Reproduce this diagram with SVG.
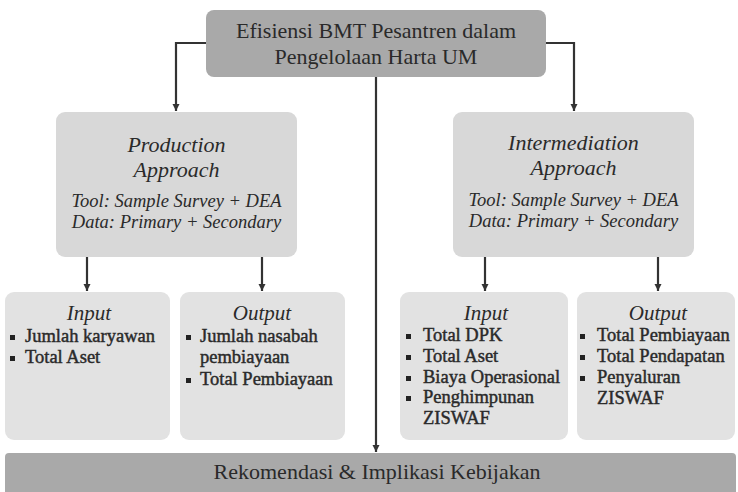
<svg xmlns="http://www.w3.org/2000/svg" width="738" height="492" viewBox="0 0 738 492">
<style>
  .t { font-family: "Liberation Serif", "Times New Roman", serif; fill: #2a2a2a; }
  .title { font-size: 22px; text-anchor: middle; }
  .ital { font-style: italic; }
  .sub { font-size: 18.5px; font-style: italic; text-anchor: middle; }
  .hd { font-size: 21px; font-style: italic; text-anchor: middle; }
  .item { font-size: 18.5px; stroke: #2a2a2a; stroke-width: 0.45; }
  .dark { fill: #a9a9a9; }
  .mid { fill: #d8d8d8; }
  .light { fill: #e2e2e2; }
  .bul { fill: #222; }
  .conn { stroke: #333; stroke-width: 2.2; fill: none; marker-end: url(#arr); }
</style>
<defs>
  <marker id="arr" viewBox="0 0 10 10" refX="10" refY="5" markerWidth="7" markerHeight="8" markerUnits="userSpaceOnUse" orient="auto">
    <path d="M0,0 L10,5 L0,10 Z" fill="#333"/>
  </marker>
</defs>
<rect width="738" height="492" fill="#ffffff"/>

<g id="connectors">
  <polyline class="conn" points="206,43 176,43 176,111"/>
  <polyline class="conn" points="546,43 574,43 574,111"/>
  <line class="conn" x1="376" y1="77" x2="376" y2="452"/>
  <line class="conn" x1="87" y1="257" x2="87" y2="291"/>
  <line class="conn" x1="262" y1="257" x2="262" y2="291"/>
  <line class="conn" x1="485" y1="257" x2="485" y2="291"/>
  <line class="conn" x1="658" y1="257" x2="658" y2="291"/>
</g>

<g id="top">
  <rect class="dark" x="206" y="10" width="340" height="67" rx="8"/>
  <text class="t title" x="376" y="38">Efisiensi BMT Pesantren dalam</text>
  <text class="t title" x="376" y="64">Pengelolaan Harta UM</text>
</g>

<g id="production">
  <rect class="mid" x="56" y="112" width="241" height="145" rx="9"/>
  <text class="t title ital" x="176.5" y="152">Production</text>
  <text class="t title ital" x="176.5" y="177">Approach</text>
  <text class="t sub" x="176.5" y="207">Tool: Sample Survey + DEA</text>
  <text class="t sub" x="176.5" y="228">Data: Primary + Secondary</text>
</g>

<g id="intermediation">
  <rect class="mid" x="453" y="112" width="241" height="145" rx="9"/>
  <text class="t title ital" x="573.5" y="150">Intermediation</text>
  <text class="t title ital" x="573.5" y="175">Approach</text>
  <text class="t sub" x="573.5" y="206">Tool: Sample Survey + DEA</text>
  <text class="t sub" x="573.5" y="227">Data: Primary + Secondary</text>
</g>

<g id="prod-input">
  <rect class="light" x="5" y="292" width="165" height="148" rx="9"/>
  <text class="t hd" x="89" y="320">Input</text>
  <rect class="bul" x="10" y="335" width="5" height="5"/>
  <text class="t item" x="25" y="342">Jumlah karyawan</text>
  <rect class="bul" x="10" y="356" width="5" height="5"/>
  <text class="t item" x="25" y="363">Total Aset</text>
</g>

<g id="prod-output">
  <rect class="light" x="180" y="292" width="165" height="148" rx="9"/>
  <text class="t hd" x="262" y="320">Output</text>
  <rect class="bul" x="186" y="335" width="5" height="5"/>
  <text class="t item" x="200" y="342">Jumlah nasabah</text>
  <text class="t item" x="200" y="363">pembiayaan</text>
  <rect class="bul" x="186" y="378" width="5" height="5"/>
  <text class="t item" x="200" y="385">Total Pembiayaan</text>
</g>

<g id="inter-input">
  <rect class="light" x="400" y="292" width="168" height="148" rx="9"/>
  <text class="t hd" x="486" y="320">Input</text>
  <rect class="bul" x="406" y="334" width="5" height="5"/>
  <text class="t item" x="423" y="341">Total DPK</text>
  <rect class="bul" x="406" y="355" width="5" height="5"/>
  <text class="t item" x="423" y="362">Total Aset</text>
  <rect class="bul" x="406" y="376" width="5" height="5"/>
  <text class="t item" x="423" y="383">Biaya Operasional</text>
  <rect class="bul" x="406" y="396" width="5" height="5"/>
  <text class="t item" x="423" y="403">Penghimpunan</text>
  <text class="t item" x="423" y="424">ZISWAF</text>
</g>

<g id="inter-output">
  <rect class="light" x="577" y="292" width="158" height="148" rx="9"/>
  <text class="t hd" x="658" y="320">Output</text>
  <rect class="bul" x="580" y="334" width="5" height="5"/>
  <text class="t item" x="597" y="341">Total Pembiayaan</text>
  <rect class="bul" x="580" y="355" width="5" height="5"/>
  <text class="t item" x="597" y="362">Total Pendapatan</text>
  <rect class="bul" x="580" y="376" width="5" height="5"/>
  <text class="t item" x="597" y="383">Penyaluran</text>
  <text class="t item" x="597" y="404">ZISWAF</text>
</g>

<g id="bottom">
  <rect class="dark" x="5" y="453" width="731" height="45" rx="4"/>
  <text class="t title" x="377" y="479">Rekomendasi &amp; Implikasi Kebijakan</text>
</g>
</svg>
